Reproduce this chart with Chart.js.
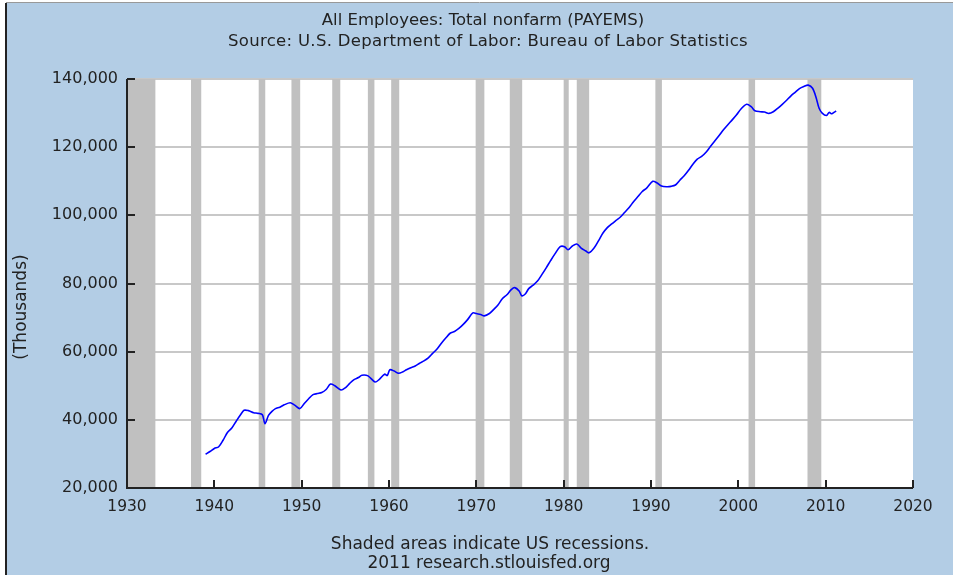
<!DOCTYPE html>
<html>
<head>
<meta charset="utf-8">
<script src="https://cdn.jsdelivr.net/npm/chart.js@4/dist/chart.umd.min.js"></script>
<style>
  html, body { margin: 0; padding: 0; background: #ffffff; }
  #wrap { position: relative; width: 953px; height: 575px; }
  canvas { display: block; }
</style>
</head>
<body>
<div id="wrap"><canvas id="c" width="953" height="575"></canvas></div>
<script>
// ---- Data ----
const years = [
  1939.0, 1939.5, 1940.0, 1940.5, 1941.0, 1941.5, 1942.0, 1942.5, 1943.0, 1943.4,
  1943.9, 1944.5, 1945.0, 1945.5, 1945.8, 1946.2, 1946.6, 1947.0, 1947.5, 1948.0,
  1948.7, 1949.2, 1949.8, 1950.3, 1950.8, 1951.3, 1951.8, 1952.3, 1952.8, 1953.3,
  1953.8, 1954.5, 1955.0, 1955.5, 1956.0, 1956.5, 1956.9, 1957.6, 1958.4, 1958.9,
  1959.5, 1959.8, 1960.1, 1960.6, 1961.1, 1961.6, 1962.0, 1962.5, 1963.0, 1963.5,
  1964.0, 1964.5, 1965.0, 1965.5, 1966.0, 1966.5, 1967.0, 1967.5, 1968.0, 1968.5,
  1969.0, 1969.6, 1970.0, 1970.5, 1970.9, 1971.5, 1972.0, 1972.5, 1973.0, 1973.5,
  1974.0, 1974.4, 1974.9, 1975.2, 1975.6, 1976.0, 1976.5, 1977.0, 1977.5, 1978.0,
  1978.5, 1979.0, 1979.6, 1980.1, 1980.5, 1981.0, 1981.5, 1982.0, 1982.5, 1982.9,
  1983.5, 1984.0, 1984.5, 1985.0, 1985.5, 1986.0, 1986.5, 1987.0, 1987.5, 1988.0,
  1988.5, 1989.0, 1989.5, 1990.2, 1990.7, 1991.2, 1991.8, 1992.3, 1992.8, 1993.3,
  1993.8, 1994.3, 1994.8, 1995.3, 1995.8, 1996.3, 1996.8, 1997.3, 1997.8, 1998.3,
  1998.8, 1999.3, 1999.8, 2000.3, 2000.96, 2001.5, 2001.9, 2002.5, 2003.0, 2003.5,
  2004.0, 2004.5, 2005.0, 2005.5, 2006.0, 2006.5, 2007.0, 2007.5, 2008.0, 2008.5,
  2008.9, 2009.25, 2009.6, 2010.1, 2010.4, 2010.7, 2011.0, 2011.2
];
const employees = [
  29900, 30700, 31600, 32100, 34000, 36300, 37600, 39600, 41500, 42800,
  42700, 42100, 41900, 41500, 38900, 41300, 42500, 43300, 43700, 44400,
  45000, 44300, 43300, 44800, 46200, 47400, 47700, 48000, 48900, 50500,
  50000, 48750, 49400, 50700, 51800, 52400, 53100, 52900, 51100, 51900,
  53400, 53000, 54700, 54300, 53650, 54100, 54700, 55300, 55800, 56600,
  57300, 58200, 59500, 60800, 62500, 64000, 65400, 65900, 66800, 68000,
  69400, 71400, 71200, 70900, 70500, 71200, 72400, 73800, 75600, 76700,
  78200, 78800, 77800, 76400, 76900, 78500, 79500, 80700, 82600, 84600,
  86700, 88700, 90800, 90800, 89900, 91000, 91600, 90400, 89600, 89000,
  90500, 92600, 94800, 96400, 97500, 98500, 99500, 100900, 102300, 104000,
  105500, 107000, 108000, 110000, 109500, 108600, 108400, 108500, 108900, 110300,
  111600, 113200, 115000, 116500, 117300, 118500, 120200, 121800, 123400, 125100,
  126600, 128000, 129500, 131200, 132600, 131800, 130700, 130400, 130300, 129900,
  130400, 131400, 132500, 133700, 135000, 136100, 137200, 137800, 138200, 137300,
  134600, 131400, 130000, 129300, 130200, 129800, 130300, 130600
];
const recessionStarts = [1929.67, 1937.33, 1945.08, 1948.83, 1953.5, 1957.58, 1960.25, 1969.92, 1973.83, 1980.0, 1981.5, 1990.5, 2001.17, 2007.92];
const recessionEnds   = [1933.25, 1938.5, 1945.83, 1949.83, 1954.42, 1958.33, 1961.17, 1970.92, 1975.25, 1980.58, 1982.92, 1991.25, 2001.92, 2009.5];
const xTicks = [1930, 1940, 1950, 1960, 1970, 1980, 1990, 2000, 2010, 2020];
const yTicks = [20000, 40000, 60000, 80000, 100000, 120000, 140000];
const titleLines = ["All Employees: Total nonfarm (PAYEMS)", "Source: U.S. Department of Labor: Bureau of Labor Statistics"];
const footerLines = ["Shaded areas indicate US recessions.", "2011 research.stlouisfed.org"];
const yAxisTitle = "(Thousands)";

// ---- Styling ----
const BG = '#b3cde5';
const GRID = '#c8c8c8';
const BAND = '#c0c0c0';
const LINE = '#0000ff';
const TEXT = '#222222';
const FONT = "'DejaVu Sans', Verdana, sans-serif";

const points = years.map((y, i) => ({ x: y, y: employees[i] }));

const decorPlugin = {
  id: 'decor',
  beforeDraw(chart) {
    const ctx = chart.ctx, a = chart.chartArea;
    ctx.save();
    ctx.fillStyle = '#ffffff';
    ctx.fillRect(0, 0, chart.width, chart.height);
    ctx.fillStyle = BG;
    ctx.fillRect(6, 3, chart.width - 6, chart.height - 3);
    ctx.strokeStyle = '#999999';
    ctx.lineWidth = 1;
    ctx.beginPath(); ctx.moveTo(6, 2.5); ctx.lineTo(chart.width, 2.5); ctx.stroke();
    ctx.strokeStyle = '#222222';
    ctx.lineWidth = 2;
    ctx.beginPath(); ctx.moveTo(6, 3); ctx.lineTo(6, chart.height); ctx.stroke();
    ctx.fillStyle = '#ffffff';
    ctx.fillRect(a.left, a.top, a.right - a.left, a.bottom - a.top);
    ctx.restore();
  },
  beforeDatasetsDraw(chart) {
    const ctx = chart.ctx, a = chart.chartArea, xs = chart.scales.x;
    ctx.save();
    ctx.beginPath();
    ctx.rect(a.left, a.top, a.right - a.left, a.bottom - a.top);
    ctx.clip();
    ctx.fillStyle = BAND;
    for (let i = 0; i < recessionStarts.length; i++) {
      const x0 = xs.getPixelForValue(recessionStarts[i]);
      const x1 = xs.getPixelForValue(recessionEnds[i]);
      ctx.fillRect(x0, a.top, x1 - x0, a.bottom - a.top);
    }
    ctx.restore();
  },
  afterDraw(chart) {
    const ctx = chart.ctx, a = chart.chartArea, xs = chart.scales.x, ys = chart.scales.y;
    ctx.save();
    ctx.strokeStyle = '#222222';
    ctx.lineWidth = 2;
    ctx.beginPath();
    ctx.moveTo(a.left, a.top); ctx.lineTo(a.left, a.bottom); ctx.lineTo(a.right, a.bottom);
    ctx.stroke();
    ctx.beginPath();
    xTicks.forEach(v => {
      const px = Math.round(xs.getPixelForValue(v));
      ctx.moveTo(px, a.bottom); ctx.lineTo(px, a.bottom - 8);
    });
    yTicks.forEach(v => {
      const py = Math.round(ys.getPixelForValue(v));
      ctx.moveTo(a.left, py); ctx.lineTo(a.left + 8, py);
    });
    ctx.stroke();
    ctx.fillStyle = TEXT;
    ctx.textAlign = 'center';
    ctx.textBaseline = 'middle';
    ctx.font = '16.5px ' + FONT;
    ctx.fillText(titleLines[0], 483, 21);
    if ('letterSpacing' in ctx) ctx.letterSpacing = '0.3px';
    ctx.fillText(titleLines[1], 488, 42);
    if ('letterSpacing' in ctx) ctx.letterSpacing = '0px';
    ctx.font = '17px ' + FONT;
    ctx.fillText(footerLines[0], 490, 545);
    ctx.fillText(footerLines[1], 489, 564);
    ctx.translate(22, 307);
    ctx.rotate(-Math.PI / 2);
    ctx.font = '17px ' + FONT;
    ctx.fillText(yAxisTitle, 0, 0);
    ctx.restore();
  }
};

new Chart(document.getElementById('c'), {
  type: 'line',
  data: {
    datasets: [{
      data: points,
      borderColor: LINE,
      borderWidth: 1.6,
      pointRadius: 0,
      tension: 0.3,
      fill: false
    }]
  },
  options: {
    responsive: false,
    animation: false,
    devicePixelRatio: 1,
    layout: { padding: { top: 79, right: 40, left: 0, bottom: 0 } },
    plugins: { legend: { display: false }, tooltip: { enabled: false }, title: { display: false } },
    scales: {
      x: {
        type: 'linear',
        min: 1930, max: 2020,
        afterBuildTicks: s => { s.ticks = xTicks.map(v => ({ value: v })); },
        afterFit: s => { s.height = 87; },
        grid: { display: false, drawTicks: false },
        border: { display: false },
        ticks: {
          color: TEXT,
          font: { family: FONT, size: 15.5 },
          padding: 10,
          maxRotation: 0,
          callback: v => String(v)
        }
      },
      y: {
        type: 'linear',
        min: 20000, max: 140000,
        afterBuildTicks: s => { s.ticks = yTicks.map(v => ({ value: v })); },
        afterFit: s => { s.width = 127; },
        grid: { color: GRID, lineWidth: 2, drawTicks: false },
        border: { display: false },
        ticks: {
          color: TEXT,
          font: { family: FONT, size: 16 },
          padding: 9,
          callback: v => v.toLocaleString('en-US')
        }
      }
    }
  },
  plugins: [decorPlugin]
});
</script>
</body>
</html>
